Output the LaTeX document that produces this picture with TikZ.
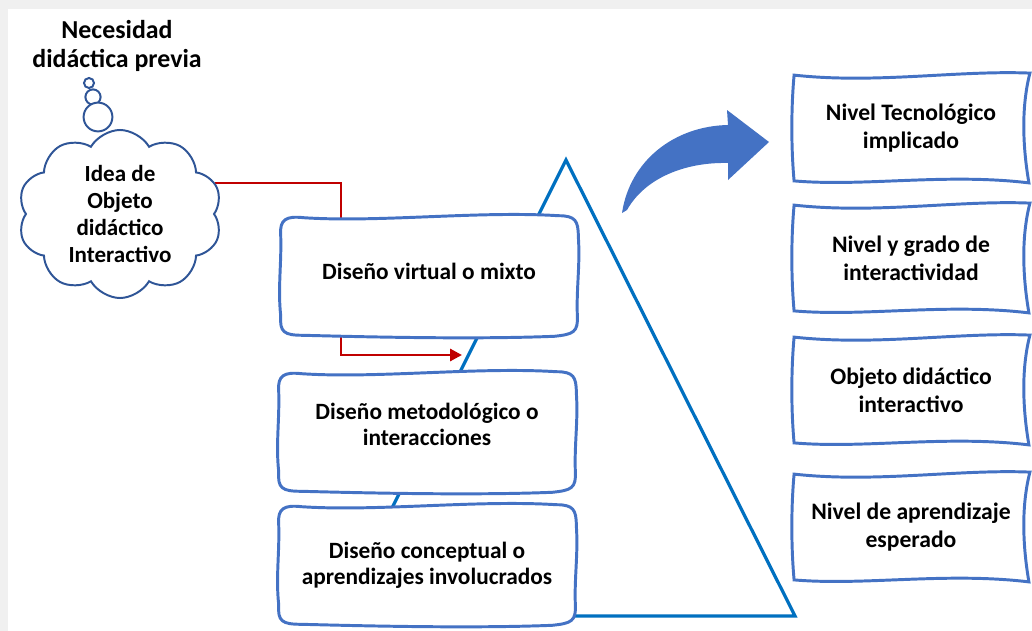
\documentclass[tikz,border=0pt]{standalone}
\usepackage{fontspec}
\setmainfont{Carlito}
\usetikzlibrary{calc, backgrounds, shapes.symbols, arrows.meta}

\definecolor{framecol}{HTML}{4472C4}
\definecolor{cloudcol}{HTML}{2F5597}
\definecolor{trianglecol}{HTML}{0070C0}
\definecolor{linkred}{HTML}{C00000}

% hand drawn frame of a design stage (rounded, slightly wavy)
\newcommand{\stageframe}[1]{%
  \draw[sketch]
    ($(#1.north west)+(1,18)$)
      .. controls ($(#1.north west)+(0,3)$) and ($(#1.north west)+(6,-1)$) .. ($(#1.north west)+(24,1)$)
      .. controls ($(#1.north)+(-50,6)$) and ($(#1.north)+(50,-6)$) .. ($(#1.north east)+(-20,-1)$)
      .. controls ($(#1.north east)+(-3,-1)$) and ($(#1.north east)+(0,4)$) .. ($(#1.north east)+(0,20)$)
      .. controls ($(#1.east)+(2,-12)$) and ($(#1.east)+(-2,12)$) .. ($(#1.south east)+(-1,-20)$)
      .. controls ($(#1.south east)+(0,-3)$) and ($(#1.south east)+(-5,-1)$) .. ($(#1.south east)+(-24,1)$)
      .. controls ($(#1.south)+(50,4)$) and ($(#1.south)+(-50,2)$) .. ($(#1.south west)+(24,0)$)
      .. controls ($(#1.south west)+(4,0)$) and ($(#1.south west)+(0,-3)$) .. ($(#1.south west)+(1,-20)$)
      .. controls ($(#1.west)+(-2,12)$) and ($(#1.west)+(2,-12)$) .. cycle;}

% wavy frame of a level box
\newcommand{\levelframe}[1]{%
  \draw[sketch]
    (#1.north west)
      .. controls ($(#1.north west)!0.35!(#1.north east)+(0,9)$) and ($(#1.north west)!0.7!(#1.north east)+(0,-5)$) .. ($(#1.north east)+(2,-2)$)
      .. controls ($(#1.east)+(-7,-20)$) and ($(#1.east)+(-5,20)$) .. ($(#1.south east)+(1,2)$)
      .. controls ($(#1.south east)!0.35!(#1.south west)+(0,-8)$) and ($(#1.south east)!0.7!(#1.south west)+(0,6)$) .. (#1.south west)
      .. controls ($(#1.west)+(-3,20)$) and ($(#1.west)+(-3,-20)$) .. cycle;}

\tikzset{
  stage/.style={minimum width=7.45cm, minimum height=2.95cm, align=center,
    font=\bfseries\fontsize{16.6}{18.5}\selectfont},
  level/.style={minimum width=5.83cm, minimum height=2.63cm, align=center,
    font=\bfseries\fontsize{16.8}{20}\selectfont},
  sketch/.style={draw=framecol, line width=2.1pt, fill=white},
  bubble/.style={circle, draw=cloudcol, line width=1.4pt, fill=white, inner sep=0pt},
  redline/.style={draw=linkred, line width=2.1pt},
}

\begin{document}
\begin{tikzpicture}[x=0.025cm, y=-0.025cm]
  \useasboundingbox (0,0) rectangle (1032,631);

  % title and thought bubble
  \node[align=center, font=\bfseries\fontsize{18.4}{20.5}\selectfont] (need) at (117,46) {Necesidad\\didáctica previa};
  \node[bubble, minimum size=0.25cm] (b1) at (89,83) {};
  \node[bubble, minimum size=0.38cm] (b2) at (93,97) {};
  \node[bubble, minimum size=0.72cm] (b3) at (98,117) {};
  \node[cloud, cloud puffs=10, cloud puff arc=120, aspect=1.2, draw=cloudcol, line width=1.4pt,
        fill=white, minimum width=5.1cm, minimum height=4.2cm, inner sep=0pt, align=center,
        font=\bfseries\fontsize{16.4}{19}\selectfont] (idea) at (120,214)
        {Idea de\\Objeto\\didáctico\\Interactivo};

  % design stages
  \node[stage, text depth=7pt] (virtual) at (429,276) {Diseño virtual o mixto};
  \node[stage, text depth=11pt] (method) at (427,432) {Diseño metodológico o\\interacciones};
  \node[stage] (concept) at (427,565) {Diseño conceptual o\\aprendizajes involucrados};

  % levels
  \node[level] (tech) at (911,128) {Nivel Tecnológico\\implicado};
  \node[level] (inter) at (911,258) {Nivel y grado de\\interactividad};
  \node[level] (object) at (911,390) {Objeto didáctico\\interactivo};
  \node[level] (learn) at (911,527) {Nivel de aprendizaje\\esperado};

  \coordinate (apex) at (566,160);
  \coordinate (base r) at (795,616);
  \coordinate (base l) at (338,616);
  \coordinate (v in) at (341,250);
  \coordinate (v out) at (341,318);
  \coordinate (v tip) at (462,355);

  \begin{scope}[on background layer]
    \fill[black!6] (0,0) rectangle (1032,631);
    \fill[white] (8,9) rectangle (1032,631);
    \draw[trianglecol, line width=2.3pt, line join=miter] (apex) -- (base r) -- (base l) -- cycle;
    \draw[redline] (idea.18) -| (v in);
    \draw[redline, -{Triangle[length=0.3cm, width=0.3cm]}] (v out) |- (v tip);
    \stageframe{virtual}
    \stageframe{method}
    \stageframe{concept}
    \levelframe{tech}
    \levelframe{inter}
    \levelframe{object}
    \levelframe{learn}
  \end{scope}

  % bent block arrow
  \fill[framecol] (622,213) .. controls (630,160) and (675,126) .. (728,125)
    -- (727,110) -- (769,142) -- (728,180) -- (728,163)
    .. controls (685,162) and (645,178) .. (627,210) -- cycle;
\end{tikzpicture}
\end{document}
